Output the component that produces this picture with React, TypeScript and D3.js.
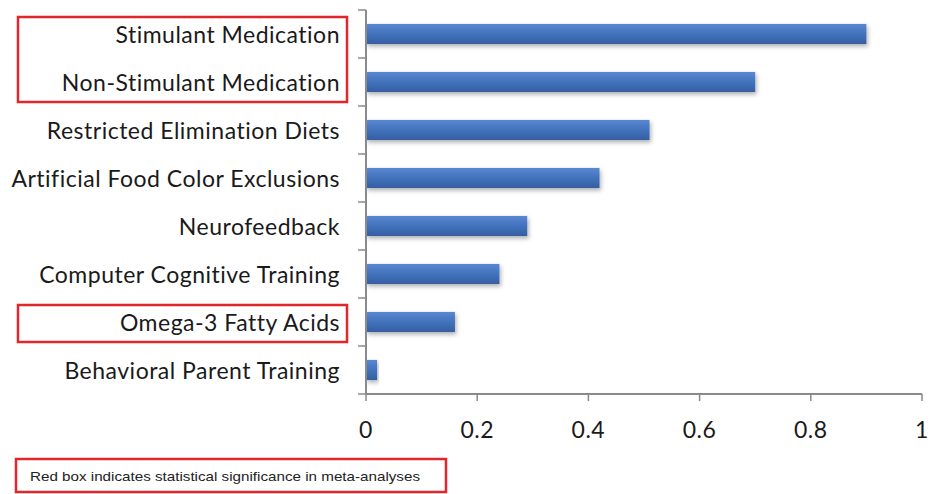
import React from "react";
import * as d3 from "d3";

const categories = [
  "Stimulant Medication",
  "Non-Stimulant Medication",
  "Restricted Elimination Diets",
  "Artificial Food Color Exclusions",
  "Neurofeedback",
  "Computer Cognitive Training",
  "Omega-3 Fatty Acids",
  "Behavioral Parent Training",
];
const values = [0.9, 0.7, 0.51, 0.42, 0.29, 0.24, 0.16, 0.02];
const significantGroups = [
  [0, 1],
  [6, 6],
];
const tickValues = [0, 0.2, 0.4, 0.6, 0.8, 1];
const tickLabels = ["0", "0.2", "0.4", "0.6", "0.8", "1"];
const noteText = "Red box indicates statistical significance in meta-analyses";

const W = 933;
const H = 494;

export default function App() {
  const x = d3.scaleLinear().domain([0, 1]).range([366, 922]);
  const y = d3
    .scaleBand<string>()
    .domain(categories)
    .range([10, 394])
    .paddingInner(0.58)
    .paddingOuter(0.29);
  const step = y.step();
  const bandTop = (i: number) => 10 + i * step;
  const axisColor = "#8a8a8a";
  const font = "Lato, 'Open Sans', sans-serif";

  return (
    <svg
      width={W}
      height={H}
      style={{ position: "absolute", left: 0, top: 0, background: "#fff", fontVariantLigatures: "none" }}
      fontFamily={font}
    >
      <defs>
        <linearGradient id="barGrad" x1="0" y1="0" x2="0" y2="1">
          <stop offset="0" stopColor="#5b88d0" />
          <stop offset="0.45" stopColor="#4474c0" />
          <stop offset="1" stopColor="#345f9f" />
        </linearGradient>
        <filter id="shadow" x="-5%" y="-30%" width="115%" height="180%">
          <feDropShadow dx="1.5" dy="2.5" stdDeviation="2" floodColor="#000" floodOpacity="0.3" />
        </filter>
      </defs>

      {/* bars */}
      {categories.map((c, i) => (
        <rect
          key={c}
          x={x(0)}
          y={y(c)}
          width={x(values[i]) - x(0)}
          height={y.bandwidth()}
          fill="url(#barGrad)"
          filter="url(#shadow)"
        />
      ))}

      {/* y axis */}
      <line x1={x(0)} x2={x(0)} y1={10} y2={394} stroke={axisColor} strokeWidth={2} />
      {d3.range(categories.length + 1).map((i) => (
        <line
          key={"yt" + i}
          x1={x(0) - 8}
          x2={x(0)}
          y1={bandTop(i)}
          y2={bandTop(i)}
          stroke={axisColor}
          strokeWidth={1.5}
        />
      ))}

      {/* x axis */}
      <line x1={x(0)} x2={x(1)} y1={394} y2={394} stroke={axisColor} strokeWidth={2} />
      {tickValues.map((t, i) => (
        <g key={"xt" + i}>
          <line x1={x(t)} x2={x(t)} y1={394} y2={401} stroke={axisColor} strokeWidth={1.5} />
          <text
            x={x(t)}
            y={429}
            textAnchor="middle"
            dominantBaseline="central"
            fontSize={23}
            letterSpacing={0.5}
            fill="#1a1a1a"
          >
            {tickLabels[i]}
          </text>
        </g>
      ))}

      {/* category labels */}
      {categories.map((c) => (
        <text
          key={"l" + c}
          x={340}
          y={(y(c) as number) + y.bandwidth() / 2}
          textAnchor="end"
          dominantBaseline="central"
          fontSize={23}
          letterSpacing={0.5}
          fill="#1a1a1a"
        >
          {c}
        </text>
      ))}

      {/* significance boxes */}
      {significantGroups.map(([a, b], k) => (
        <rect
          key={"box" + k}
          x={18}
          y={bandTop(a) + 7}
          width={329}
          height={bandTop(b + 1) - bandTop(a) - 11}
          fill="none"
          stroke="#e3262b"
          strokeWidth={2.5}
        />
      ))}

      {/* note */}
      <rect x={16} y={459} width={430} height={33} fill="none" stroke="#e3262b" strokeWidth={2.5} />
      <text
        x={30}
        y={476}
        dominantBaseline="central"
        fontSize={13.5}
        fontFamily="'Liberation Sans', Arial, sans-serif"
        fill="#222"
        textLength={390}
        lengthAdjust="spacingAndGlyphs"
      >
        {noteText}
      </text>
    </svg>
  );
}
